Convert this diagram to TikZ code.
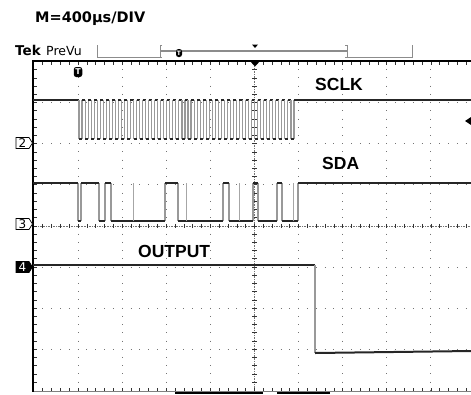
\documentclass[tikz,border=0pt]{standalone}
\usepackage{fontspec}
\setmainfont{Liberation Sans}
\newfontfamily\scopefont{DejaVu Sans}

% channel marker: name, y, number, style
\newcommand\chmark[4]{%
  \draw[#4] (16,#2-5.5) -- (29,#2-5.5) -- (32.5,#2) -- (29,#2+5.5) -- (16,#2+5.5) -- cycle;
  \node[chnum, #4, draw=none] (#1) at (22.5,#2) {#3};
}

\begin{document}
\begin{tikzpicture}[x=1pt, y=-1pt,
    frame/.style={black, line width=2pt},
    tickmark/.style={black!80, line width=0.7pt},
    vdots/.style={black!55, line width=0.9pt, dash pattern=on 0.9pt off 7.32pt},
    hdots/.style={black!55, line width=0.9pt, dash pattern=on 0.9pt off 7.92pt},
    axisdots/.style={black!55, line width=0.7pt, dash pattern=on 0.7pt off 0.94pt},
    level/.style={black!85, line width=2pt},
    edge/.style={black!40, line width=1.1pt},
    glitch/.style={black!35, line width=0.9pt},
    siglabel/.style={font=\fontsize{17.5}{20}\selectfont\bfseries, anchor=base west, inner sep=0pt},
    chnum/.style={font=\scopefont\fontsize{12}{12}\selectfont, inner sep=0pt},
    openmark/.style={draw=black, fill=white, text=black, line width=0.7pt},
    fullmark/.style={draw=black, fill=black, text=white, line width=0.7pt},
    trig/.style={fill=black, text=white, rounded corners=2.5pt, inner sep=0pt,
      minimum width=8.5pt, minimum height=10pt, font=\scopefont\bfseries\fontsize{8}{8}\selectfont},
    barline/.style={black!45, line width=0.8pt}]
  \useasboundingbox (0,0) rectangle (471,394);
  \clip (0,0) rectangle (471,394);

  % header
  \node[anchor=base west, inner sep=0pt, font=\scopefont\bfseries\fontsize{14.5}{16}\selectfont]
    (timebase) at (35,22.7) {M=400µs/DIV};
  \node[anchor=base west, inner sep=0pt, font=\scopefont\bfseries\fontsize{13.5}{14}\selectfont]
    (tek) at (15,55) {Tek};
  \node[anchor=base west, inner sep=0pt, font=\scopefont\fontsize{12.5}{14}\selectfont]
    (prevu) at (46,55) {PreVu};
  \draw[barline] (97,45) -- (97,57.5) -- (160,57.5);
  \draw[barline] (347,57.5) -- (412,57.5) -- (412,45);
  \draw[black!45, line width=1.6pt] (160,51) -- (347,51);
  \draw[barline] (162,45) -| (160,57.5) -- (162,57.5);
  \draw[barline] (345,45) -| (347,57.5) -- (345,57.5);
  \node[trig, minimum width=6pt, minimum height=8pt, font=\scopefont\bfseries\fontsize{6}{6}\selectfont]
    (bartrig) at (179,53) {T};
  \fill (252,44.5) -- (258,44.5) -- (255,48) -- cycle;

  % graticule
  \foreach \k in {1,2,3,4,6,7,8,9}
    \draw[vdots] ({34+\k*44.1},61.05) -- ({34+\k*44.1},391);
  \foreach \k in {1,2,3,5,6,7}
    \draw[hdots] (33.55,{61.5+\k*41.1}) -- (471,{61.5+\k*41.1});
  \draw[axisdots] (254.5,61) -- (254.5,391);
  \draw[axisdots] (33,225.9) -- (471,225.9);
  \foreach \j in {1,...,39} {
    \draw[tickmark] (33,{61.5+\j*8.22}) -- ++(3.5,0);
    \draw[tickmark] (252,{61.5+\j*8.22}) -- ++(5,0);
  }
  \foreach \j in {1,...,50} {
    \draw[tickmark] ({34+\j*8.82},61) -- ++(0,3.5);
    \draw[tickmark] ({34+\j*8.82},391) -- ++(0,-3);
    \draw[tickmark] ({34+\j*8.82},223.9) -- ++(0,4);
  }
  \draw[black!50, line width=0.8pt] (33,391.5) -- (471,391.5);
  \draw[frame] (175,392.5) -- (263,392.5) (277,392.5) -- (330,392.5);
  \draw[frame] (33,61) -- (471,61);
  \draw[frame] (33,60) -- (33,392);
  \fill (249,60) -- (261,60) -- (255,66.5) -- cycle;

  % SCLK
  \draw[level] (33,100) -- (79,100) (297,100) -- (471,100);
  \foreach \i in {0,...,35} {
    \pgfmathsetmacro\xa{79+\i*6.056}
    \pgfmathsetmacro\xb{\xa+3.028}
    \pgfmathsetmacro\xc{\xa+6.056}
    \draw[edge] (\xa,100) -- (\xa,139) (\xb,139) -- (\xb,100);
    \draw[level] (\xa,139) -- (\xb,139) (\xb,100) -- (\xc,100);
  }

  % SDA
  \foreach \a/\b in {78/81, 99/105, 111/165, 178/223, 229/253, 258/277, 282/298} {
    \draw[edge] (\a,183) -- (\a,221) (\b,221) -- (\b,183);
    \draw[level] (\a,221) -- (\b,221);
  }
  \foreach \a/\b in {33/78, 81/99, 105/111, 165/178, 223/229, 253/258, 277/282, 298/471}
    \draw[level] (\a,183) -- (\b,183);
  \foreach \g in {133, 186, 239, 293}
    \draw[glitch] (\g,221) -- (\g,183);

  % OUTPUT
  \draw[level] (33,265) -- (315,265);
  \draw[edge] (315,265) -- (315,353);
  \draw[level] (315,353) -- (471,351);

  % markers
  \node[trig] (trigT) at (78,72) {T};
  \chmark{ch2}{143}{2}{openmark}
  \chmark{ch3}{224}{3}{openmark}
  \chmark{ch4}{267}{4}{fullmark}
  \fill (465,121) -- (471,117) -- (471,125) -- cycle;

  % labels
  \node[siglabel] (sclk) at (315,90) {SCLK};
  \node[siglabel] (sda) at (322,169) {SDA};
  \node[siglabel] (output) at (138,257) {OUTPUT};
\end{tikzpicture}
\end{document}
